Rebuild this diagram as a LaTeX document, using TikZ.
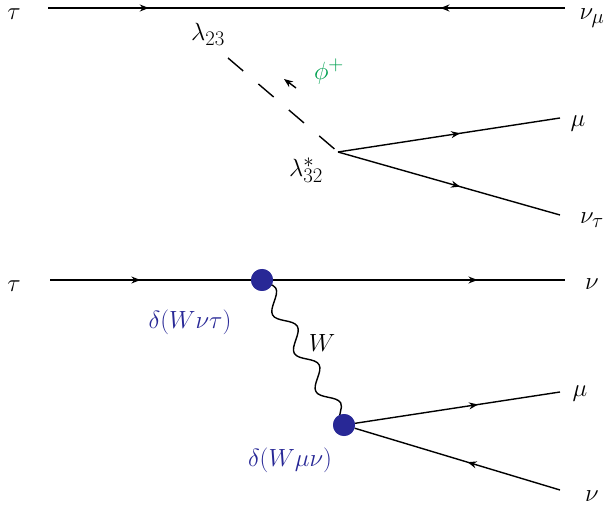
\documentclass[tikz,border=0pt]{standalone}
\usetikzlibrary{decorations.markings,decorations.pathmorphing,arrows.meta}
\definecolor{vblue}{RGB}{40,40,150}
\definecolor{vgreen}{RGB}{0,160,80}
\begin{document}
\begin{tikzpicture}[x=1pt,y=-1pt,
  fer/.style={line width=1.4pt,postaction={decorate},decoration={markings,mark=at position #1 with {\arrow{Stealth[length=9pt,width=7pt]}}}},
  ferr/.style={line width=1.4pt,postaction={decorate},decoration={markings,mark=at position #1 with {\arrowreversed{Stealth[length=9pt,width=7pt]}}}},
  lbl/.style={font=\fontsize{29}{34}\selectfont},
  blob/.style={circle,fill=vblue,minimum size=22pt,inner sep=0pt}]
\useasboundingbox (0,0) rectangle (615,510);
% top
\coordinate (ta) at (48,8); \coordinate (tm) at (300,8); \coordinate (tb) at (565,8);
\draw[fer=0.4] (ta) -- (tm);
\draw[ferr=0.53] (tm) -- (tb);
\coordinate (v1) at (228,58); \coordinate (v2) at (338,152);
\draw[line width=1.4pt,dash pattern=on 20pt off 20pt] (v1) -- (v2);
\draw[-{Stealth[length=9pt,width=7pt]},line width=1.4pt] (296,88) -- (284,79);
\coordinate (m1) at (560,118); \coordinate (m2) at (560,215);
\draw[fer=0.55] (v2) -- (m1);
\draw[fer=0.55] (v2) -- (m2);
\node[lbl] (l1) at (14,14) {$\tau$};
\node[lbl] (l2) at (592,18) {$\nu_\mu$};
\node[lbl] (l3) at (208,34) {$\lambda_{23}$};
\node[lbl,text=vgreen] (l4) at (329,72) {$\phi^+$};
\node[lbl] (l5) at (306,170) {$\lambda^*_{32}$};
\node[lbl] (l6) at (578,124) {$\mu$};
\node[lbl] (l7) at (592,220) {$\nu_\tau$};
% bottom
\coordinate (ba) at (50,280); \coordinate (bb) at (565,280);
\node[blob] (b1) at (262,280) {};
\node[blob] (b2) at (344,425) {};
\draw[fer=0.45] (ba) -- (b1);
\draw[fer=0.7] (b1) -- (bb);
\draw[line width=1.4pt,decorate,decoration={snake,amplitude=8pt,segment length=44pt}] (b1.center) -- (b2.center);
\node[blob] at (b1) {};
\node[blob] at (b2) {};
\coordinate (n1) at (560,392); \coordinate (n2) at (560,490);
\draw[fer=0.6] (b2) -- (n1);
\draw[ferr=0.55] (b2) -- (n2);
\node[lbl] (k1) at (14,286) {$\tau$};
\node[lbl] (k2) at (592,284) {$\nu$};
\node[lbl] (k3) at (322,343) {$W$};
\node[lbl,text=vblue] (k4) at (190,322) {$\delta(W\nu\tau)$};
\node[lbl,text=vblue] (k5) at (290,460) {$\delta(W\mu\nu)$};
\node[lbl] (k6) at (580,394) {$\mu$};
\node[lbl] (k7) at (592,496) {$\nu$};
\end{tikzpicture}
\end{document}
